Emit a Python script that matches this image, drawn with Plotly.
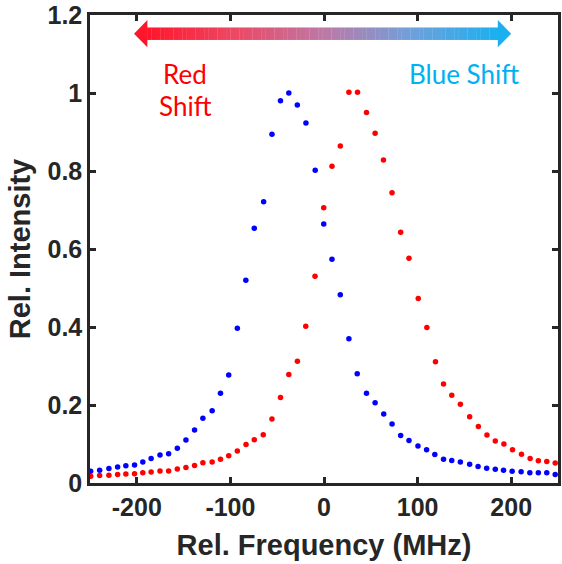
import plotly.graph_objects as go

# ---------------- data ----------------
blue_x = [-249.3, -239.7, -229.8, -220.5, -211.7, -202.4, -193.6, -184.7, -175.2, -166.0,
          -156.7, -147.5, -138.3, -129.4, -119.5, -110.6, -101.8, -92.6, -83.5, -74.5,
          -64.5, -55.6, -46.5, -37.6, -28.5, -19.3, -9.4, -0.3, 8.5, 17.4,
          26.6, 35.5, 45.4, 54.6, 63.8, 72.7, 81.9, 90.8, 100.4, 109.6,
          118.4, 127.7, 136.5, 145.7, 155.6, 164.6, 173.8, 183.0, 191.8, 201.0,
          210.6, 219.9, 229.0, 238.0, 247.0]
blue_y = [0.030, 0.033, 0.037, 0.041, 0.044, 0.046, 0.054, 0.063, 0.072, 0.075,
          0.089, 0.110, 0.136, 0.166, 0.185, 0.230, 0.277, 0.397, 0.520, 0.653,
          0.721, 0.894, 0.980, 1.000, 0.969, 0.923, 0.802, 0.664, 0.574, 0.483,
          0.370, 0.280, 0.230, 0.206, 0.177, 0.151, 0.122, 0.109, 0.095, 0.085,
          0.073, 0.061, 0.058, 0.054, 0.048, 0.042, 0.038, 0.035, 0.033, 0.030,
          0.029, 0.026, 0.026, 0.026, 0.022]

red_x = [-249.3, -239.7, -229.8, -220.5, -211.7, -202.4, -193.6, -184.7, -175.2, -166.0,
         -156.7, -147.5, -138.3, -129.4, -119.5, -110.6, -101.8, -92.6, -83.3, -74.5,
         -64.9, -55.6, -46.5, -37.6, -28.4, -19.5, -9.6, -0.3, 8.5, 17.4,
         26.6, 35.8, 45.4, 54.6, 63.5, 72.7, 81.9, 90.8, 100.7, 109.9,
         119.1, 127.7, 136.5, 145.7, 155.6, 164.9, 174.1, 183.0, 192.2, 201.4,
         211.0, 220.2, 229.0, 238.0, 247.0]
red_y = [0.017, 0.019, 0.020, 0.022, 0.023, 0.024, 0.026, 0.028, 0.031, 0.031,
         0.036, 0.040, 0.045, 0.052, 0.054, 0.061, 0.070, 0.082, 0.099, 0.111,
         0.124, 0.164, 0.219, 0.278, 0.312, 0.402, 0.530, 0.706, 0.812, 0.864,
         1.002, 1.002, 0.950, 0.897, 0.828, 0.744, 0.643, 0.576, 0.473, 0.399,
         0.311, 0.254, 0.225, 0.202, 0.170, 0.145, 0.123, 0.108, 0.100, 0.085,
         0.074, 0.063, 0.057, 0.055, 0.051]

x_ticks = [-200, -100, 0, 100, 200]
x_ticktext = ["-200", "-100", "0", "100", "200"]
y_ticks = [0, 0.2, 0.4, 0.6, 0.8, 1.0, 1.2]
y_ticktext = ["0", "0.2", "0.4", "0.6", "0.8", "1", "1.2"]

# arrow (gradient) description
arrow_x0, arrow_x1 = -203, 200
arrow_head_len = 14
arrow_yc, arrow_half_shaft, arrow_half_head = 1.152, 0.016, 0.035
grad_stops = [(0.0, (255, 22, 42)), (0.25, (236, 72, 100)), (0.5, (190, 120, 165)),
              (0.75, (112, 160, 218)), (1.0, (26, 176, 240))]

AX = "#262626"
FONT = "Liberation Sans, Arial, sans-serif"

fig = go.Figure()
fig.add_trace(go.Scatter(x=blue_x, y=blue_y, mode="markers",
                         marker=dict(color="#0000ff", size=5.5, line=dict(width=0)),
                         showlegend=False))
fig.add_trace(go.Scatter(x=red_x, y=red_y, mode="markers",
                         marker=dict(color="#ff0000", size=5.5, line=dict(width=0)),
                         showlegend=False))


def grad_color(t):
    for (t0, c0), (t1, c1) in zip(grad_stops[:-1], grad_stops[1:]):
        if t0 <= t <= t1:
            f = (t - t0) / (t1 - t0)
            c = [round(a + (b - a) * f) for a, b in zip(c0, c1)]
            return "rgb(%d,%d,%d)" % tuple(c)
    return "rgb(%d,%d,%d)" % grad_stops[-1][1]


shapes = []
sx0 = arrow_x0 + arrow_head_len
sx1 = arrow_x1 - arrow_head_len
N = 80
for i in range(N):
    a = sx0 + (sx1 - sx0) * i / N
    b = sx0 + (sx1 - sx0) * (i + 1) / N
    t = (i + 0.5) / N
    shapes.append(dict(type="rect", xref="x", yref="y", x0=a, x1=b + 0.3,
                       y0=arrow_yc - arrow_half_shaft, y1=arrow_yc + arrow_half_shaft,
                       fillcolor=grad_color(t), line=dict(width=0), layer="above"))
shapes.append(dict(type="path", xref="x", yref="y",
                   path="M %f,%f L %f,%f L %f,%f Z" % (arrow_x0, arrow_yc,
                                                      sx0 + 0.3, arrow_yc + arrow_half_head,
                                                      sx0 + 0.3, arrow_yc - arrow_half_head),
                   fillcolor=grad_color(0), line=dict(width=0), layer="above"))
shapes.append(dict(type="path", xref="x", yref="y",
                   path="M %f,%f L %f,%f L %f,%f Z" % (arrow_x1, arrow_yc,
                                                      sx1 - 0.3, arrow_yc + arrow_half_head,
                                                      sx1 - 0.3, arrow_yc - arrow_half_head),
                   fillcolor=grad_color(1), line=dict(width=0), layer="above"))

TFONT = "Lato, Open Sans, sans-serif"
annotations = [
    dict(x=-148, y=1.050, xref="x", yref="y", text="Red", showarrow=False,
         font=dict(family=TFONT, size=26, color="#ff0000"), xanchor="center", yanchor="middle"),
    dict(x=-148, y=0.966, xref="x", yref="y", text="Shift", showarrow=False,
         font=dict(family=TFONT, size=26, color="#ff0000"), xanchor="center", yanchor="middle"),
    dict(x=149.5, y=1.050, xref="x", yref="y", text="Blue Shift", showarrow=False,
         font=dict(family=TFONT, size=26, color="#00b0f0"), xanchor="center", yanchor="middle"),
]

fig.update_layout(
    width=562, height=564,
    margin=dict(l=90, r=1, t=13, b=81),
    paper_bgcolor="white", plot_bgcolor="white",
    shapes=shapes, annotations=annotations,
    font=dict(family=FONT, color=AX),
)
fig.update_xaxes(range=[-250, 250], tickvals=x_ticks, ticktext=x_ticktext,
                 showgrid=False, zeroline=False, showline=True, linewidth=2.5, linecolor=AX,
                 mirror="ticks", ticks="inside", ticklen=6, tickwidth=2.5, tickcolor=AX,
                 ticklabeloverflow="allow",
                 tickfont=dict(family=FONT, size=25, color=AX, weight="bold"),
                 title=dict(text="<b>Rel. Frequency (MHz)</b>", font=dict(family=FONT, size=29, color=AX),
                            standoff=15))
fig.update_yaxes(range=[0, 1.2], tickvals=y_ticks, ticktext=y_ticktext,
                 showgrid=False, zeroline=False, showline=True, linewidth=2.5, linecolor=AX,
                 mirror="ticks", ticks="inside", ticklen=6, tickwidth=2.5, tickcolor=AX,
                 ticklabeloverflow="allow",
                 tickfont=dict(family=FONT, size=25, color=AX, weight="bold"),
                 title=dict(text="<b>Rel. Intensity</b>", font=dict(family=FONT, size=29, color=AX),
                            standoff=9))

fig.write_html("out.html")
